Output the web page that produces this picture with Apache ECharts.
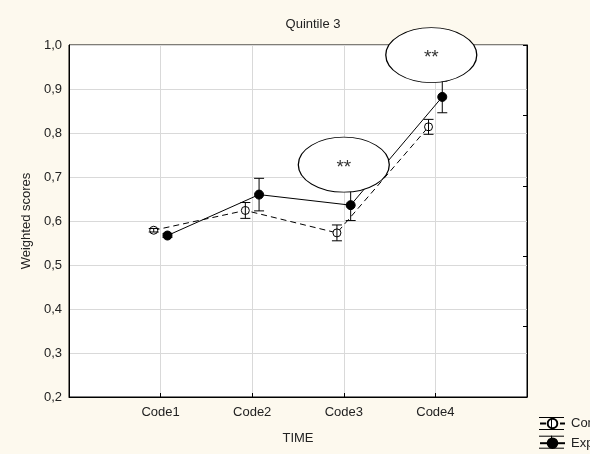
<!DOCTYPE html>
<html>
<head>
<meta charset="utf-8">
<script src="https://cdn.jsdelivr.net/npm/echarts@6/dist/echarts.min.js"></script>
<style>
html,body{margin:0;padding:0;background:#fdf9ee;}
#c{width:590px;height:454px;}
</style>
</head>
<body>
<div id="c"></div>
<script>
const categories = ['Code1', 'Code2', 'Code3', 'Code4'];
const controlMeans = [0.579, 0.624, 0.573, 0.814];
const controlErr   = [0.004, 0.018, 0.018, 0.017];
const expMeans     = [0.567, 0.660, 0.636, 0.882];
const expErr       = [0.004, 0.037, 0.035, 0.036];
const yTicks = [0.2, 0.3, 0.4, 0.5, 0.6, 0.7, 0.8, 0.9, 1.0];
const annotations = [[3, 0.728, '**'], [3.955, 0.977, '**']];
const seriesNames = ['Control', 'Experimental'];

const OFF = 0.075;
const FONT = 'Liberation Sans';
const FS = 13;
const ctrlData = controlMeans.map((v, i) => [i + 1 - OFF, v, controlErr[i]]);
const expData = expMeans.map((v, i) => [i + 1 + OFF, v, expErr[i]]);

function errBar(params, api) {
  const x = api.value(0), y = api.value(1), e = api.value(2);
  const t = api.coord([x, y + e]), b = api.coord([x, y - e]);
  const hw = 5;
  const st = {stroke: '#000', lineWidth: 1};
  return {type: 'group', children: [
    {type: 'line', shape: {x1: t[0], y1: t[1], x2: b[0], y2: b[1]}, style: st},
    {type: 'line', shape: {x1: t[0] - hw, y1: t[1], x2: t[0] + hw, y2: t[1]}, style: st},
    {type: 'line', shape: {x1: b[0] - hw, y1: b[1], x2: b[0] + hw, y2: b[1]}, style: st}
  ]};
}

// legend decoration: error-bar caps above and below each legend icon
const LEG_LEFT = 539, LEG_TOP = 417, LEG_H = 12, LEG_GAP = 6.7, LEG_W = 25;
const legendCaps = [];
seriesNames.forEach((n, i) => {
  const y0 = LEG_TOP + i * (LEG_H + LEG_GAP);
  [y0, y0 + LEG_H].forEach(yy => legendCaps.push({
    type: 'line', shape: {x1: LEG_LEFT, y1: yy + 0.5, x2: LEG_LEFT + LEG_W, y2: yy + 0.5},
    style: {stroke: '#000', lineWidth: 1}, silent: true
  }));
  legendCaps.push({
    type: 'line', shape: {x1: LEG_LEFT + LEG_W / 2, y1: y0, x2: LEG_LEFT + LEG_W / 2, y2: y0 + LEG_H},
    style: {stroke: '#000', lineWidth: 1}, silent: true, z: 100
  });
});

const chart = echarts.init(document.getElementById('c'));
chart.setOption({
  backgroundColor: '#fdf9ee',
  animation: false,
  textStyle: {fontFamily: FONT},
  title: {
    text: 'Quintile 3', left: 308, top: 13, textAlign: 'center',
    textStyle: {fontSize: FS, fontWeight: 'normal', color: '#222', fontFamily: FONT}
  },
  legend: {
    left: LEG_LEFT, top: LEG_TOP, orient: 'vertical', padding: 0,
    itemWidth: LEG_W, itemHeight: LEG_H, itemGap: LEG_GAP,
    textStyle: {fontSize: FS, color: '#222', fontFamily: FONT, padding: [0, 0, 0, 1]},
    data: seriesNames
  },
  graphic: legendCaps,
  grid: {
    left: 69, right: 63, top: 45, bottom: 57,
    show: true, backgroundColor: '#fff', borderColor: '#000', borderWidth: 1
  },
  xAxis: {
    type: 'value', min: 0, max: 5, interval: 1,
    name: 'TIME', nameLocation: 'middle', nameGap: 35,
    nameTextStyle: {fontSize: FS, color: '#222', fontFamily: FONT},
    axisLine: {lineStyle: {color: '#000', width: 1}},
    axisTick: {inside: true, length: 4, lineStyle: {color: '#000'}},
    axisLabel: {fontSize: FS, color: '#222', margin: 9,
      formatter: v => categories[v - 1] || ''},
    splitLine: {show: true, lineStyle: {color: '#d9d9d9', width: 1}}
  },
  yAxis: [{
    type: 'value', min: yTicks[0], max: yTicks[yTicks.length - 1], interval: 0.1,
    name: 'Weighted scores', nameLocation: 'middle', nameGap: 24, nameRotate: 90,
    nameTextStyle: {fontSize: FS, color: '#222', fontFamily: FONT},
    axisLine: {show: true, lineStyle: {color: '#000', width: 1}},
    axisTick: {show: false},
    axisLabel: {fontSize: FS, color: '#222', margin: 7,
      formatter: v => v.toFixed(1).replace('.', ',')},
    splitLine: {show: true, lineStyle: {color: '#d9d9d9', width: 1}}
  }, {
    type: 'value', min: 0, max: 5, interval: 1, position: 'right',
    axisLine: {show: true, lineStyle: {color: '#000', width: 1}},
    axisTick: {show: true, inside: true, length: 4, lineStyle: {color: '#000'}},
    axisLabel: {show: false},
    splitLine: {show: false}
  }],
  series: [
    {
      name: 'Control', type: 'line', data: ctrlData, z: 3,
      symbol: 'circle', symbolSize: 8,
      lineStyle: {color: '#000', width: 1, type: [6, 4]},
      itemStyle: {color: '#fff', borderColor: '#000', borderWidth: 1}
    },
    {
      name: 'Experimental', type: 'line', data: expData, z: 3,
      symbol: 'circle', symbolSize: 9,
      lineStyle: {color: '#000', width: 1, type: 'solid'},
      itemStyle: {color: '#000', borderColor: '#000', borderWidth: 1}
    },
    {type: 'custom', data: ctrlData, renderItem: errBar, z: 4, silent: true},
    {type: 'custom', data: expData, renderItem: errBar, z: 4, silent: true},
    {
      type: 'scatter', data: annotations, z: 6, silent: true,
      symbol: 'circle', symbolSize: [91, 55],
      itemStyle: {color: '#fff', borderColor: '#000', borderWidth: 1, opacity: 1},
      label: {show: true, position: 'inside', formatter: p => p.data[2],
        fontSize: 19, color: '#333', fontFamily: FONT, offset: [0, 3]}
    }
  ]
});
</script>
</body>
</html>
